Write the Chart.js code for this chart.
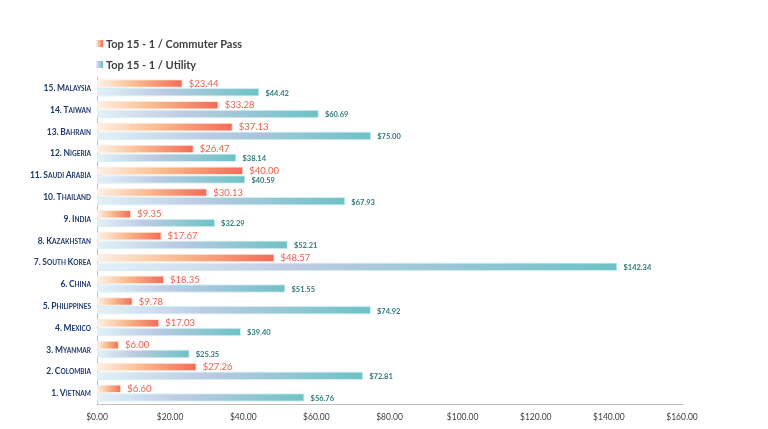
<!DOCTYPE html>
<html>
<head>
<meta charset="utf-8">
<script src="https://cdn.jsdelivr.net/npm/chart.js@4"></script>
<style>
  html, body { margin: 0; padding: 0; background: #fff; }
  #wrap { position: relative; width: 768px; height: 429px; }
  #legend { position: absolute; left: 96px; top: 33px; font-family: Lato, "Liberation Sans", sans-serif; font-weight: bold; font-size: 11px; color: #404040; }
  .item { height: 21px; line-height: 18px; display: flex; align-items: center; }
  .box { width: 7px; height: 7px; margin-right: 3px; }
</style>
</head>
<body>
<div id="wrap">
  <canvas id="c" width="768" height="429"></canvas>
  <div id="legend"></div>
</div>
<script>
const categories = ["15. Malaysia", "14. Taiwan", "13. Bahrain", "12. Nigeria", "11. Saudi Arabia", "10. Thailand", "9. India", "8. Kazakhstan", "7. South Korea", "6. China", "5. Philippines", "4. Mexico", "3. Myanmar", "2. Colombia", "1. Vietnam"];
const commuterPass = [23.44, 33.28, 37.13, 26.47, 40.00, 30.13, 9.35, 17.67, 48.57, 18.35, 9.78, 17.03, 6.00, 27.26, 6.60];
const utility = [44.42, 60.69, 75.00, 38.14, 40.59, 67.93, 32.29, 52.21, 142.34, 51.55, 74.92, 39.40, 25.35, 72.81, 56.76];
const seriesNames = ["Top 15 - 1 / Commuter Pass", "Top 15 - 1 / Utility"];

const orangeStops = [[0, '#fff1e4'], [0.45, '#f9bb8e'], [1, '#f26b58']];
const blueStops = [[0, '#e2f1f8'], [0.4, '#bccbe3'], [1, '#6dc2c6']];
const FAMILY = 'Lato, "Liberation Sans", sans-serif';

function gradFor(stops) {
  return function(ctx) {
    const chart = ctx.chart;
    const area = chart.chartArea;
    if (!area || ctx.type !== 'data') return stops[stops.length - 1][1];
    const xs = chart.scales.x;
    const x0 = xs.getPixelForValue(0);
    const x1 = xs.getPixelForValue(ctx.raw);
    const g = chart.ctx.createLinearGradient(x0, 0, Math.max(x1, x0 + 1), 0);
    stops.forEach(s => g.addColorStop(s[0], s[1]));
    return g;
  };
}

const labelPlugin = {
  id: 'valueLabels',
  afterDatasetsDraw(chart) {
    const ctx = chart.ctx;
    ctx.save();
    chart.data.datasets.forEach((ds, di) => {
      const meta = chart.getDatasetMeta(di);
      meta.data.forEach((bar, i) => {
        const v = ds.data[i];
        const txt = '$' + v.toFixed(2);
        if (di === 0) {
          ctx.font = '9.5px ' + FAMILY;
          ctx.fillStyle = '#f2604c';
        } else {
          ctx.font = 'bold 7.5px ' + FAMILY;
          ctx.fillStyle = '#2f7b7d';
        }
        ctx.textAlign = 'left';
        ctx.textBaseline = 'middle';
        ctx.fillText(txt, bar.x + 6, bar.y + (di === 0 ? 0 : 1));
      });
    });
    ctx.restore();
  }
};

// draws category labels in small caps (big first letter, smaller capitals after)
const smallCapsPlugin = {
  id: 'smallCapsLabels',
  afterDraw(chart) {
    const ctx = chart.ctx;
    const ys = chart.scales.y;
    const right = ys.right - 6;
    ctx.save();
    ctx.fillStyle = '#1f3a6e';
    ctx.textBaseline = 'alphabetic';
    ctx.textAlign = 'left';
    const big = 'bold 8.5px ' + FAMILY, small = 'bold 6.5px ' + FAMILY;
    chart.data.labels.forEach((lab, i) => {
      const y = ys.getPixelForValue(i) + 3;
      const pieces = [];
      lab.split(' ').forEach((w, wi) => {
        if (wi > 0) pieces.push([' ', small]);
        pieces.push([w.charAt(0).toUpperCase(), big]);
        if (w.length > 1) pieces.push([w.slice(1).toUpperCase(), /[a-z]/.test(w.slice(1)) ? small : big]);
      });
      let total = 0;
      pieces.forEach(p => { ctx.font = p[1]; p.push(ctx.measureText(p[0]).width); total += p[2]; });
      let x = right - total;
      pieces.forEach(p => { ctx.font = p[1]; ctx.fillText(p[0], x, y); x += p[2]; });
    });
    ctx.restore();
  }
};

new Chart(document.getElementById('c'), {
  type: 'bar',
  data: {
    labels: categories,
    datasets: [
      { label: seriesNames[0], data: commuterPass, backgroundColor: gradFor(orangeStops), borderColor: 'rgba(255,228,215,0.9)', borderWidth: 1, categoryPercentage: 0.8, barPercentage: 0.98 },
      { label: seriesNames[1], data: utility, backgroundColor: gradFor(blueStops), borderColor: 'rgba(205,238,242,0.95)', borderWidth: 1, categoryPercentage: 0.8, barPercentage: 0.98 }
    ]
  },
  options: {
    indexAxis: 'y',
    responsive: false,
    animation: false,
    layout: { padding: { top: 77, right: 86, left: 0, bottom: 0 } },
    plugins: { legend: { display: false }, tooltip: { enabled: false } },
    scales: {
      x: {
        min: 0, max: 160,
        ticks: { stepSize: 20, color: '#404040', font: { size: 8.5, family: FAMILY }, callback: v => '$' + Number(v).toFixed(2), padding: 4 },
        grid: { display: false, drawOnChartArea: false, drawTicks: true, tickLength: 4, color: '#bfbfbf' },
        border: { display: true, color: '#bfbfbf' },
        afterFit(s) { s.height = 25; }
      },
      y: {
        ticks: { color: 'rgba(0,0,0,0)', font: { size: 8.5, weight: 'bold', family: FAMILY }, padding: 6 },
        grid: { display: false, drawTicks: false },
        border: { display: true, color: '#bfbfbf' },
        afterFit(s) { s.width = 97; }
      }
    }
  },
  plugins: [labelPlugin, smallCapsPlugin]
});

const legend = document.getElementById('legend');
[orangeStops, blueStops].forEach((stops, i) => {
  const d = document.createElement('div');
  d.className = 'item';
  const b = document.createElement('span');
  b.className = 'box';
  b.style.background = 'linear-gradient(to right, ' + stops.map(s => s[1] + ' ' + (s[0] * 100) + '%').join(', ') + ')';
  const t = document.createElement('span');
  t.textContent = seriesNames[i];
  d.appendChild(b); d.appendChild(t);
  legend.appendChild(d);
});
</script>
</body>
</html>
